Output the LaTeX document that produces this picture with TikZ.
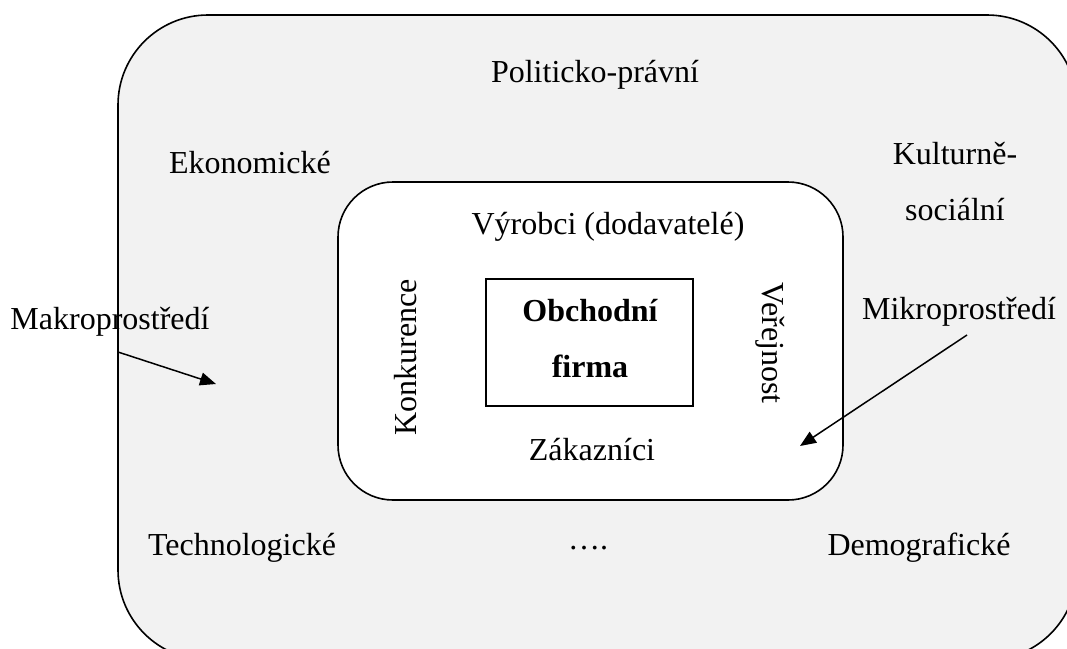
\documentclass[tikz,border=0pt]{standalone}
\usepackage{fontspec}
\setmainfont{Liberation Serif}
\usetikzlibrary{arrows.meta}
\begin{document}
\begin{tikzpicture}[x=1pt,y=-1pt,
  lbl/.style={font=\fontsize{32}{38}\selectfont, inner sep=0pt, align=center},
  box/.style={draw=black, line width=1.6pt},
  pointer/.style={line width=1.5pt, -{Triangle[length=16pt,width=13pt]}}]
\useasboundingbox (0,0) rectangle (1067,648);
\begin{scope}
\clip (0,0) rectangle (1067,648);
% outer environment (macro level)
\draw[box, fill={rgb,255:red,242;green,242;blue,242}, rounded corners=90pt] (118,15) rectangle (1077,660);
\end{scope}
% inner environment (micro level)
\draw[box, fill=white, rounded corners=55pt] (338,182) rectangle (843,500);
% the firm
\draw[box, line width=1.3pt] (486,279) rectangle (693,406);

\node[lbl] (pol) at (595,75) {Politicko-právní};
\node[lbl] (eko) at (250,163) {Ekonomické};
\node[lbl] (kul) at (955,182) {Kulturně-\\[18pt]sociální};
\node[lbl] (vyr) at (608,227) {Výrobci (dodavatelé)};
\node[lbl, rotate=90] (kon) at (406,357) {Konkurence};
\node[lbl, rotate=-90] (ver) at (770,343) {Veřejnost};
\node[lbl, font=\fontsize{32}{38}\selectfont\bfseries] (firm) at (590,339) {Obchodní\\[18pt]firma};
\node[lbl] (zak) at (592,450) {Zákazníci};
\node[lbl] (mak) at (110,322) {Makroprostředí};
\node[lbl] (mik) at (959,312) {Mikroprostředí};
\node[lbl] (tech) at (242,548) {Technologické};
\node[lbl] (dots) at (588,548) {….};
\node[lbl] (dem) at (919,548) {Demografické};

\coordinate (makS) at (118,352);
\coordinate (makE) at (216,384);
\coordinate (mikS) at (967,335);
\coordinate (mikE) at (800,446);
\draw[pointer] (makS) -- (makE);
\draw[pointer] (mikS) -- (mikE);
\end{tikzpicture}
\end{document}
